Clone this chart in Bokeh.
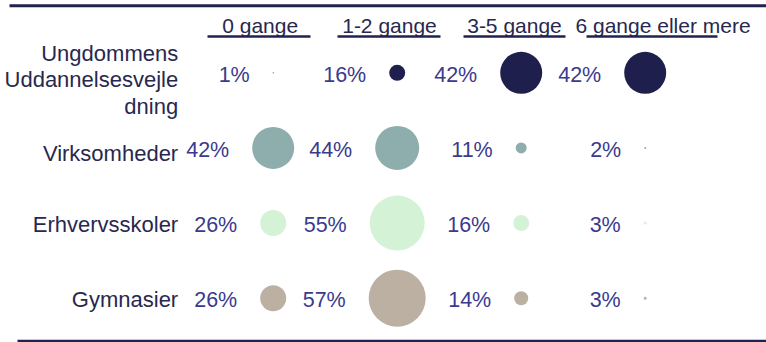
from bokeh.plotting import figure
from bokeh.models import ColumnDataSource, Range1d
from bokeh.embed import file_html
from bokeh.resources import INLINE
from bokeh.core.properties import value

# ---------------- data ----------------
categories = ["Ungdommens\nUddannelsesvejle\ndning", "Virksomheder", "Erhvervsskoler", "Gymnasier"]
frequency = ["0 gange", "1-2 gange", "3-5 gange", "6 gange eller mere"]
uu_values = [1, 16, 42, 42]
virksomheder_values = [42, 44, 11, 2]
erhvervsskoler_values = [26, 55, 16, 3]
gymnasier_values = [26, 57, 14, 3]
series = [uu_values, virksomheder_values, erhvervsskoler_values, gymnasier_values]

# ---------------- styles / layout ----------------
row_colors = ["#1f1f4e", "#8eadad", "#d4f2d6", "#bcb0a2"]
PCT_COLOR = "#3a3a8f"
TXT_COLOR = "#28284f"
LINE_COLOR = "#22224e"
FONT = value("Liberation Sans")
FS = "22px"
FS_PCT = "21.5px"
FS_HEAD = "21px"

W, H = 766, 342
COL0_PX, COL_STEP = 272.7, 124.0
ROW0_PX, ROW_STEP = 72.3, 75.13


def px_x(fx):
    return (fx - COL0_PX) / COL_STEP


def px_y(fy):
    return (fy - ROW0_PX) / ROW_STEP


p = figure(width=W, height=H, output_backend="svg", toolbar_location=None,
           x_range=Range1d(px_x(0), px_x(W)), y_range=Range1d(px_y(H), px_y(0)),
           x_axis_location=None, y_axis_location=None, min_border=0,
           background_fill_color="white", border_fill_color="white")
p.outline_line_color = None
p.grid.visible = False

# bubbles + percentage labels
xs, ys, vs, cols, labs, xoffs = [], [], [], [], [], []
for j, vals in enumerate(series):
    for i, v in enumerate(vals):
        xs.append(i)
        ys.append(j)
        vs.append(v)
        cols.append(row_colors[j])
        labs.append(f"{v}%")
        xoffs.append(-(v / 2 + 23))
src = ColumnDataSource(dict(x=xs, y=ys, v=vs, color=cols, label=labs, xoff=xoffs))

p.scatter(x="x", y="y", size="v", fill_color="color", line_color=None, source=src)
p.text(x="x", y="y", text="label", x_offset="xoff", y_offset=2, source=src,
       text_align="right", text_baseline="middle", text_font=FONT,
       text_font_size=FS_PCT, text_color=PCT_COLOR)

# category labels
label_dy = [7, 6, 1.5, 1.5]
csrc = ColumnDataSource(dict(x=[0] * len(categories), y=list(range(len(categories))),
                             text=categories, dy=label_dy))
p.text(x="x", y="y", text="text", y_offset="dy", x_offset=-95, source=csrc,
       text_align="right", text_baseline="middle", text_font=FONT,
       text_font_size=FS, text_color=TXT_COLOR, text_line_height=1.06)

# column headers
head_xoff = [-51, -55, -54, -69.7]
hsrc = ColumnDataSource(dict(x=list(range(len(frequency))), y=[px_y(25)] * len(frequency),
                             text=frequency, xoff=head_xoff))
p.text(x="x", y="y", text="text", x_offset="xoff", source=hsrc,
       text_align="left", text_baseline="middle", text_font=FONT,
       text_font_size=FS_HEAD, text_color=TXT_COLOR)

# header underlines
ul = [(-65.7, 37.3), (-59.7, 43.3), (-57.7, 44.3), (-58.7, 72.3)]
p.segment(x0=[i + a / COL_STEP for i, (a, b) in enumerate(ul)],
          x1=[i + b / COL_STEP for i, (a, b) in enumerate(ul)],
          y0=[px_y(36)] * 4, y1=[px_y(36)] * 4,
          line_color=LINE_COLOR, line_width=2.5)

# top and bottom rules
p.segment(x0=[px_x(9)], x1=[px_x(W)], y0=[px_y(5.3)], y1=[px_y(5.3)],
          line_color=LINE_COLOR, line_width=3)
p.segment(x0=[px_x(17)], x1=[px_x(W)], y0=[px_y(340.5)], y1=[px_y(340.5)],
          line_color=LINE_COLOR, line_width=2.5)

open("out.html", "w").write(file_html(p, INLINE))
